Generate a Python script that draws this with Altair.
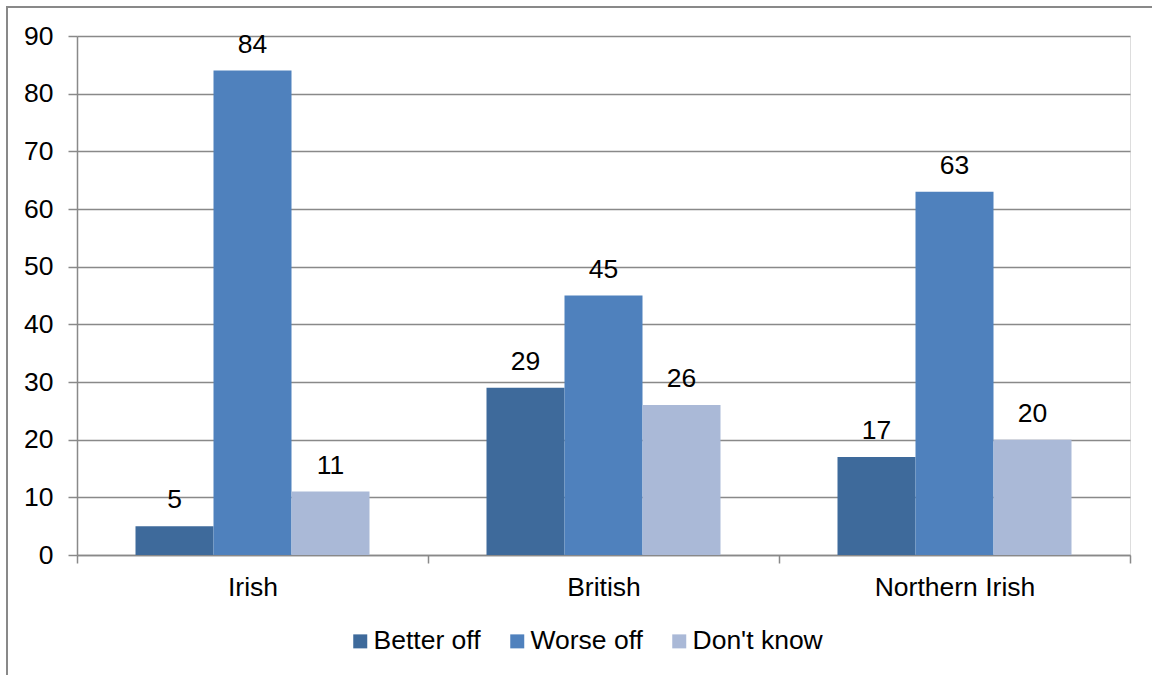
import altair as alt
import pandas as pd

# Survey results: share expecting to be better/worse off, by national identity
groups = ["Irish", "British", "Northern Irish"]
series = ["Better off", "Worse off", "Don't know"]
better_off = [5, 29, 17]
worse_off = [84, 45, 63]
dont_know = [11, 26, 20]
y_ticks = [0, 10, 20, 30, 40, 50, 60, 70, 80, 90]
colors = ["#3E6A9B", "#4F81BD", "#AAB9D7"]

rows = []
for i, g in enumerate(groups):
    for s, vals in zip(series, [better_off, worse_off, dont_know]):
        rows.append({"group": g, "series": s, "value": vals[i]})
df = pd.DataFrame(rows)

FONT = "Liberation Sans"
FS = 26.5
GRID = "#898989"
W, H = 1053, 519

# category bands fill the axis; the gap between groups comes from the offset scale
x_enc = alt.X(
    "group:N",
    sort=groups,
    scale=alt.Scale(paddingInner=0, paddingOuter=0),
    axis=alt.Axis(
        title=None,
        labelAngle=0,
        tickBand="extent",
        tickSize=8,
        tickColor=GRID,
        tickWidth=1.5,
        domainColor=GRID,
        domainWidth=1.5,
        labelPadding=11,
        labelFontSize=FS,
        labelFont=FONT,
        labelColor="#000000",
        grid=False,
    ),
)
xoff_enc = alt.XOffset(
    "series:N", sort=series, scale=alt.Scale(paddingInner=0, paddingOuter=0.75)
)
y_enc = alt.Y(
    "value:Q",
    scale=alt.Scale(domain=[0, 90], nice=False),
    axis=alt.Axis(
        title=None,
        values=y_ticks,
        tickSize=9,
        tickColor=GRID,
        tickWidth=1.5,
        domainColor=GRID,
        domainWidth=1.5,
        gridColor=GRID,
        gridWidth=1.5,
        labelPadding=15,
        labelFontSize=FS,
        labelFont=FONT,
        labelColor="#000000",
    ),
)

bars = alt.Chart(df).mark_bar().encode(
    x=x_enc,
    xOffset=xoff_enc,
    y=y_enc,
    color=alt.Color(
        "series:N",
        sort=series,
        scale=alt.Scale(domain=series, range=colors),
        legend=alt.Legend(
            title=None,
            orient="none",
            direction="horizontal",
            columns=3,
            legendX=270,
            legendY=592,
            symbolType="square",
            symbolSize=196,
            symbolStrokeWidth=0,
            labelFontSize=FS,
            labelFont=FONT,
            labelColor="#000000",
            labelOffset=0,
            columnPadding=23,
        ),
    ),
)

labels = alt.Chart(df).mark_text(
    baseline="alphabetic", dy=-18, fontSize=FS, font=FONT, color="#000000"
).encode(
    x=alt.X("group:N", sort=groups),
    xOffset=alt.XOffset("series:N", sort=series),
    y="value:Q",
    text="value:Q",
)

# outer frame around the whole figure
frame = alt.Chart(df).mark_rect(
    fillOpacity=0, stroke=GRID, strokeWidth=2
).encode(
    x=alt.value(-70), x2=alt.value(W + 60), y=alt.value(-29), y2=alt.value(H + 140)
)

chart = alt.layer(bars, labels, frame).properties(
    width=W,
    height=H,
    autosize=alt.AutoSizeParams(type="none"),
    padding={"left": 77, "top": 36, "right": 22, "bottom": 120},
).configure_view(stroke=None).configure(background="white")

chart.save("out.html", embed_options={"renderer": "svg", "actions": False})
